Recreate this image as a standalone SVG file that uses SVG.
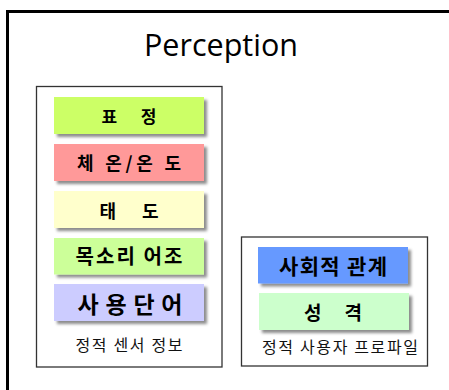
<svg xmlns="http://www.w3.org/2000/svg" width="449" height="390" viewBox="0 0 449 390">
<defs>
<filter id="sh" x="-10%" y="-20%" width="130%" height="160%">
<feDropShadow dx="3" dy="3" stdDeviation="1.4" flood-color="#000" flood-opacity="0.45"/>
</filter>
<style>
.box{stroke:none;filter:url(#sh)}
.grp{fill:#fff;stroke:#333;stroke-width:1.3}
.lbl{font-family:"Noto Sans CJK KR","Noto Sans",sans-serif;font-weight:bold;fill:#000;text-anchor:middle;dominant-baseline:central}
.cap{font-family:"Noto Sans CJK KR","Noto Sans",sans-serif;font-size:16px;fill:#111;text-anchor:middle;dominant-baseline:central}
.title{font-family:"Open Sans","DejaVu Sans",sans-serif;font-size:30.5px;fill:#000;text-anchor:middle}
</style>
</defs>
<rect width="449" height="390" fill="#fff"/>
<path d="M7.5,392 V11.5 H452" fill="none" stroke="#000" stroke-width="3"/>
<text class="title" x="221" y="56">Perception</text>

<g id="sensor-group">
<rect class="grp" x="36.5" y="86.5" width="185.5" height="280.5"/>
<text class="cap" x="129" y="343.5" textLength="107" lengthAdjust="spacing">정적 센서 정보</text>
</g>
<g id="expression">
<rect class="box" x="54" y="97" width="150" height="37" fill="#CCFF66"/>
<text class="lbl" x="129" y="115.8" font-size="17" textLength="55" lengthAdjust="spacing">표 정</text>
</g>
<g id="temperature">
<rect class="box" x="54" y="144" width="150" height="37" fill="#FF9999"/>
<text class="lbl" x="129" y="162.2" font-size="18" textLength="104" lengthAdjust="spacing">체 온/온 도</text>
</g>
<g id="attitude">
<rect class="box" x="54" y="191" width="150" height="37" fill="#FFFFCC"/>
<text class="lbl" x="129" y="210" font-size="18" textLength="59" lengthAdjust="spacing">태 도</text>
</g>
<g id="voice-tone">
<rect class="box" x="54" y="238" width="150" height="36.5" fill="#CCFF99"/>
<text class="lbl" x="129" y="255.3" font-size="20" textLength="107" lengthAdjust="spacing">목소리 어조</text>
</g>
<g id="word-use">
<rect class="box" x="54" y="284" width="150" height="37" fill="#CCCCFF"/>
<text class="lbl" x="130" y="303" font-size="23" textLength="105" lengthAdjust="spacing">사용단어</text>
</g>

<g id="profile-group">
<rect class="grp" x="241.5" y="237" width="186" height="129"/>
<text class="cap" x="340" y="345.8" textLength="156" lengthAdjust="spacing">정적 사용자 프로파일</text>
</g>
<g id="social-relation">
<rect class="box" x="258" y="247" width="150" height="36.5" fill="#6699FF"/>
<text class="lbl" x="333" y="265" font-size="21" textLength="108" lengthAdjust="spacing">사회적 관계</text>
</g>
<g id="personality">
<rect class="box" x="259" y="293" width="150" height="37" fill="#CCFFCC"/>
<text class="lbl" x="333" y="311.5" font-size="19" textLength="58" lengthAdjust="spacing">성 격</text>
</g>
<g id="connectors"></g>
</svg>
